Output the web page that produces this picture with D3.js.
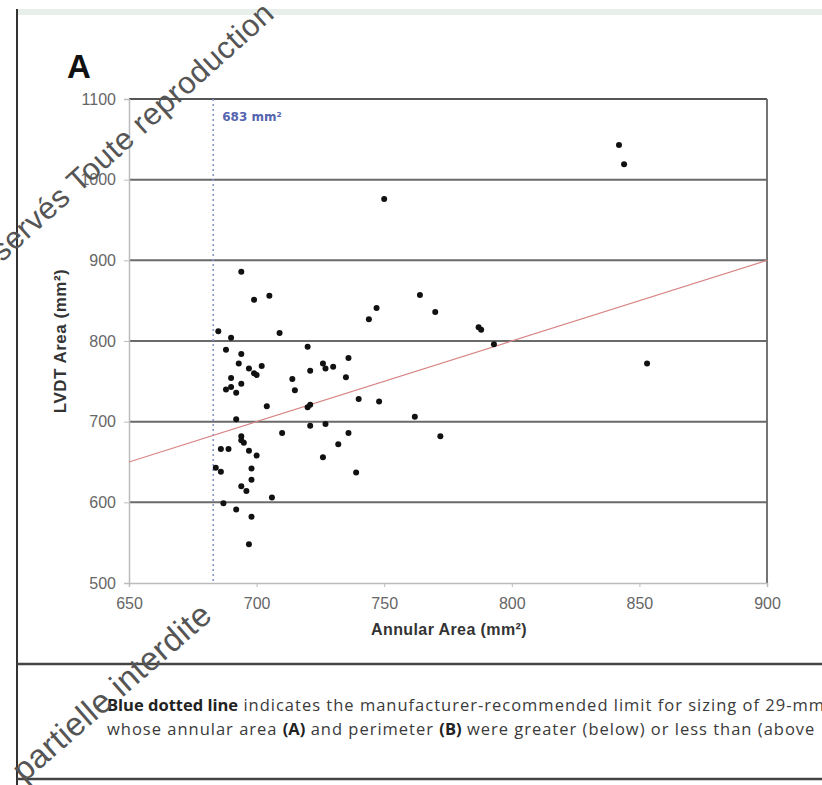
<!DOCTYPE html>
<html>
<head>
<meta charset="utf-8">
<script src="https://cdn.jsdelivr.net/npm/d3@7"></script>
<style>
body { margin: 0; background: #fff; }
</style>
</head>
<body>
<script>
const width = 822;
const height = 785;

// values
const annularArea = [694, 699, 705, 685, 690, 709, 688, 694, 693, 702, 697, 699, 700, 690, 694, 688,
    690, 692, 714, 715, 720, 721, 726, 727, 730, 736, 735, 704, 720, 721, 740, 748, 692, 710, 721,
    727, 736, 694, 694, 695, 697, 700, 686, 689, 684, 686, 698, 698, 694, 696, 706, 687, 692, 698,
    697, 732, 726, 739, 762, 772, 764, 770, 787, 788, 793, 750, 744, 747, 842, 844, 853];
const lvdtArea = [886, 851, 856, 812, 804, 810, 789, 784, 772, 769, 766, 760, 758, 754, 747, 740,
    743, 736, 753, 739, 793, 763, 772, 766, 768, 779, 755, 719, 718, 721, 728, 725, 703, 686, 695,
    697, 686, 682, 677, 674, 664, 658, 666, 666, 643, 638, 642, 628, 620, 614, 606, 599, 591, 582,
    548, 672, 656, 637, 706, 682, 857, 836, 817, 814, 796, 976, 827, 841, 1043, 1019, 772];
const xTicks = [650, 700, 750, 800, 850, 900];
const yTicks = [500, 600, 700, 800, 900, 1000, 1100];
const limitArea = 683;
const identityRange = [650, 900];

const captionLine1 = [['Blue dotted line', true], [' indicates the manufacturer-recommended limit for sizing of 29-mm', false]];
const captionLine2 = [['whose annular area ', false], ['(A)', true], [' and perimeter ', false], ['(B)', true],
    [' were greater (below) or less than (above', false]];

let svg = d3.select('body')
    .append('svg')
    .attr('width', width)
    .attr('height', height)
    .style('font-family', 'Liberation Sans, Arial, sans-serif');

let plotMargins = { top: 99, bottom: 583, left: 129, right: 767 };

let xScale = d3.scaleLinear()
    .domain([650, 900])
    .range([plotMargins.left, plotMargins.right]);
let yScale = d3.scaleLinear()
    .domain([500, 1100])
    .range([plotMargins.bottom, plotMargins.top]);

// page frame
svg.append('rect')
    .attr('x', 17).attr('y', 9)
    .attr('width', width - 17).attr('height', 6)
    .attr('fill', '#e8eeea');
svg.append('line')
    .attr('x1', 17).attr('x2', 17)
    .attr('y1', 9).attr('y2', height)
    .attr('stroke', '#333').attr('stroke-width', 2);
svg.append('line')
    .attr('x1', 17).attr('x2', width)
    .attr('y1', 664).attr('y2', 664)
    .attr('stroke', '#444').attr('stroke-width', 2.5);
svg.append('line')
    .attr('x1', 17).attr('x2', width)
    .attr('y1', 779).attr('y2', 779)
    .attr('stroke', '#444').attr('stroke-width', 2.5);

svg.append('text')
    .attr('x', 67).attr('y', 78)
    .style('font-weight', 'bold')
    .style('font-size', '33px')
    .attr('fill', '#111')
    .text('A');

// grid lines
let gridGroup = svg.append('g').classed('grid', true);
gridGroup.selectAll('line')
    .data(yTicks.filter(d => d > 500))
    .enter()
    .append('line')
    .attr('x1', plotMargins.left)
    .attr('x2', plotMargins.right)
    .attr('y1', d => yScale(d))
    .attr('y2', d => yScale(d))
    .attr('stroke', d => d === 1100 ? '#555' : '#6a6a6a')
    .attr('stroke-width', 2);

svg.append('line')
    .attr('x1', plotMargins.right).attr('x2', plotMargins.right)
    .attr('y1', plotMargins.top).attr('y2', plotMargins.bottom)
    .attr('stroke', '#666').attr('stroke-width', 1.8);

// axes
let yAxis = d3.axisLeft(yScale)
    .tickValues(yTicks)
    .tickFormat(d3.format('d'))
    .tickSize(5)
    .tickPadding(8);
let yAxisGroup = svg.append('g')
    .attr('transform', `translate(${plotMargins.left},0)`)
    .call(yAxis);

let xAxis = d3.axisBottom(xScale)
    .tickValues(xTicks)
    .tickFormat(d3.format('d'))
    .tickSize(4)
    .tickPadding(11);
let xAxisGroup = svg.append('g')
    .attr('transform', `translate(0,${plotMargins.bottom})`)
    .call(xAxis);

[xAxisGroup, yAxisGroup].forEach(g => {
    g.select('.domain').attr('stroke', '#bbb').attr('stroke-width', 1.5);
    g.selectAll('.tick line').attr('stroke', '#bbb');
    g.selectAll('.tick text')
        .attr('fill', '#666')
        .style('font-family', 'Liberation Sans, Arial, sans-serif')
        .style('font-size', '16px');
});

svg.append('text')
    .attr('x', 449).attr('y', 635)
    .attr('text-anchor', 'middle')
    .style('font-weight', 'bold')
    .style('font-size', '16px')
    .style('letter-spacing', '0.4px')
    .attr('fill', '#333')
    .text('Annular Area (mm²)');

svg.append('text')
    .attr('transform', `translate(66,${(plotMargins.top + plotMargins.bottom) / 2}) rotate(-90)`)
    .attr('text-anchor', 'middle')
    .style('font-weight', 'bold')
    .style('font-size', '17px')
    .style('letter-spacing', '0.5px')
    .attr('fill', '#333')
    .text('LVDT Area (mm²)');

// manufacturer limit
svg.append('line')
    .attr('x1', xScale(limitArea)).attr('x2', xScale(limitArea))
    .attr('y1', yScale(1100)).attr('y2', yScale(500))
    .attr('stroke', '#8797cc')
    .attr('stroke-width', 1.6)
    .attr('stroke-dasharray', '2,3');
svg.append('text')
    .attr('x', xScale(limitArea) + 9).attr('y', yScale(1100) + 22)
    .style('font-family', 'DejaVu Sans, sans-serif')
    .style('font-weight', 'bold')
    .style('font-size', '12px')
    .attr('fill', '#5565b0')
    .text('683 mm²');

// line of identity
svg.append('line')
    .attr('x1', xScale(identityRange[0])).attr('y1', yScale(identityRange[0]))
    .attr('x2', xScale(identityRange[1])).attr('y2', yScale(identityRange[1]))
    .attr('stroke', '#d98585')
    .attr('stroke-width', 1.2);

// points
let points = annularArea.map((d, i) => ({ x: d, y: lvdtArea[i] }));
svg.append('g')
    .classed('points', true)
    .selectAll('circle')
    .data(points)
    .enter()
    .append('circle')
    .attr('cx', d => xScale(d.x))
    .attr('cy', d => yScale(d.y))
    .attr('r', 3)
    .attr('fill', '#111');

// caption
[[captionLine1, 711], [captionLine2, 735]].forEach(([parts, y]) => {
    let t = svg.append('text')
        .attr('x', 107).attr('y', y)
        .style('font-family', 'Open Sans, sans-serif')
        .style('font-size', '16.5px')
        .attr('fill', '#333');
    parts.forEach(([s, bold]) => {
        t.append('tspan')
            .style('font-weight', bold ? 'bold' : 'normal')
            .style('letter-spacing', bold ? '0px' : '1px')
            .attr('fill', bold ? '#222' : '#3a3a3a')
            .text(s);
    });
});

// watermark
svg.append('text')
    .attr('transform', 'translate(276,16) rotate(-42)')
    .attr('text-anchor', 'end')
    .style('font-size', '31px')
    .style('letter-spacing', '0.5px')
    .attr('fill', '#555')
    .text('réservés Toute reproduction');
svg.append('text')
    .attr('transform', 'translate(24,783) rotate(-41)')
    .style('font-size', '33px')
    .style('letter-spacing', '0.5px')
    .attr('fill', '#555')
    .text('partielle interdite');
</script>
</body>
</html>
